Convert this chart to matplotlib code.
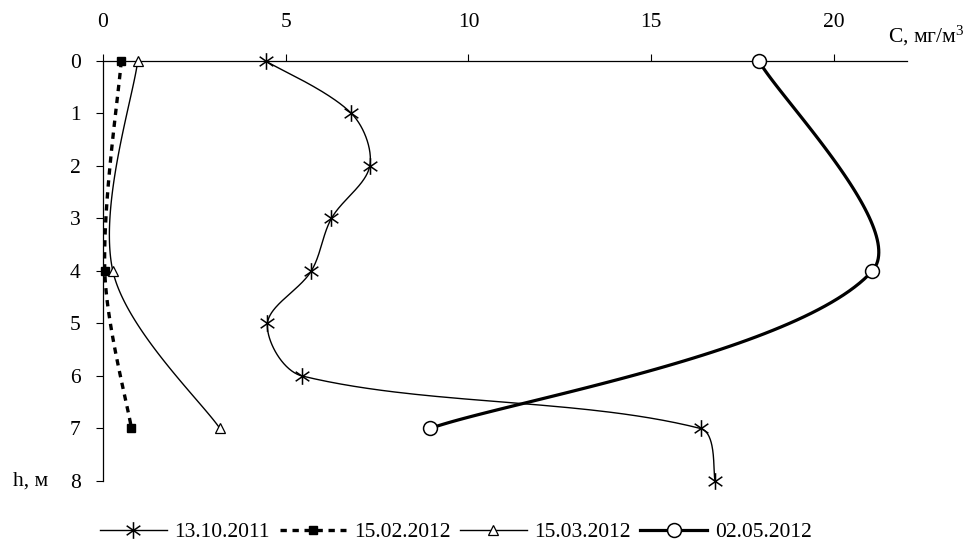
import numpy as np
import matplotlib
matplotlib.use("Agg")
import matplotlib.pyplot as plt
from matplotlib.path import Path

plt.rcParams['font.family'] = ['Liberation Serif', 'DejaVu Serif']
plt.rcParams['mathtext.fontset'] = 'custom'
plt.rcParams['mathtext.rm'] = 'Liberation Serif'
plt.rcParams['mathtext.it'] = 'Liberation Serif:italic'

# Data
h_oct = [0, 1, 2, 3, 4, 5, 6, 7, 8]
c_oct = [4.45, 6.8, 7.3, 6.25, 5.7, 4.5, 5.45, 16.35, 16.75]
h_feb = [0, 4, 7]
c_feb = [0.5, 0.05, 0.78]
h_mar = [0, 4, 7]
c_mar = [0.95, 0.27, 3.2]
h_may = [0, 4, 7]
c_may = [17.95, 21.05, 8.95]
labels = ['13.10.2011', '15.02.2012', '15.03.2012', '02.05.2012']
xticks = [0, 5, 10, 15, 20]
yticks = [0, 1, 2, 3, 4, 5, 6, 7, 8]

# screen scale (px per data unit) used for smoothing distances
SX, SY = 36.55, 52.5


def excel_smooth(xs, ys, n=60):
    P = np.column_stack([np.asarray(xs, float) * SX, np.asarray(ys, float) * SY])
    m = len(P)
    out = [P[0]]
    t = np.linspace(0, 1, n)[1:]
    for i in range(m - 1):
        p1 = P[i]
        p2 = P[i + 1]
        d12 = np.linalg.norm(p2 - p1)
        if i > 0:
            p0 = P[i - 1]
            d01 = np.linalg.norm(p1 - p0)
            c1 = p1 + (p2 - p0) / 3.0 * d12 / (d01 + d12)
        else:
            c1 = p1 + (p2 - p1) / 6.0
        if i + 2 < m:
            p3 = P[i + 2]
            d23 = np.linalg.norm(p3 - p2)
            c2 = p2 - (p3 - p1) / 3.0 * d12 / (d12 + d23)
        else:
            c2 = p2 - (p2 - p1) / 6.0
        for tt in t:
            b = ((1 - tt) ** 3) * p1 + 3 * ((1 - tt) ** 2) * tt * c1 \
                + 3 * (1 - tt) * tt ** 2 * c2 + tt ** 3 * p2
            out.append(b)
    out = np.array(out)
    return out[:, 0] / SX, out[:, 1] / SY


star = Path([(0, -1), (0, 1), (-0.82, -0.57), (0.82, 0.57), (-0.82, 0.57), (0.82, -0.57)],
            [Path.MOVETO, Path.LINETO, Path.MOVETO, Path.LINETO, Path.MOVETO, Path.LINETO])

fig = plt.figure(figsize=(9.76, 5.43), dpi=100)
ax = fig.add_axes([0.1055, 0.1142, 0.8238, 0.7735])

k = 'black'
series = [
    (c_oct, h_oct, dict(color=k, lw=1.0, ls='-', marker=star, ms=12, mfc='none', mec=k, mew=1.1)),
    (c_feb, h_feb, dict(color=k, lw=2.4, ls=(0, (1.9, 1.7)), marker='s', ms=6, mfc=k, mec=k)),
    (c_mar, h_mar, dict(color=k, lw=1.0, ls='-', marker='^', ms=7, mfc='white', mec=k, mew=0.9)),
    (c_may, h_may, dict(color=k, lw=2.3, ls='-', marker='o', ms=10, mfc='white', mec=k, mew=1.1)),
]
handles = []
for (cx, hy, st), lab in zip(series, labels):
    sx, sy = excel_smooth(cx, hy)
    line_kw = {kk: v for kk, v in st.items() if kk in ('color', 'lw', 'ls')}
    ax.plot(sx, sy, zorder=2, clip_on=False, **line_kw)
    mk_kw = {kk: v for kk, v in st.items() if kk not in ('color', 'lw', 'ls')}
    ax.plot(cx, hy, ls='none', zorder=3, clip_on=False, **mk_kw)
    hd, = ax.plot([], [], label=lab, **st)
    handles.append(hd)

ax.set_xlim(0, 22)
ax.set_ylim(8, 0)
ax.xaxis.tick_top()
ax.set_xticks(xticks)
ax.set_yticks(yticks)
ax.tick_params(axis='x', direction='out', length=5, width=0.8, labelsize=15.5, pad=16)
ax.tick_params(axis='y', direction='out', length=5, width=0.8, labelsize=15.5, pad=11)
ax.spines['right'].set_visible(False)
ax.spines['bottom'].set_visible(False)
ax.spines['top'].set_linewidth(0.9)
ax.spines['left'].set_linewidth(0.9)

ax.text(21.47, -0.48, 'C, мг/м$^{\\mathrm{3}}$', fontsize=15.5, ha='left', va='center', clip_on=False)
ax.text(-2.45, 8.0, 'h, м', fontsize=15.5, ha='left', va='center', clip_on=False)

leg = fig.legend(handles=handles, loc='center', bbox_to_anchor=(0.467, 0.02), ncol=4,
                 frameon=False, fontsize=15.5, handlelength=3.1, handletextpad=0.35,
                 columnspacing=0.45, numpoints=1, borderpad=0.0)

fig.savefig('out.png', dpi=100)
